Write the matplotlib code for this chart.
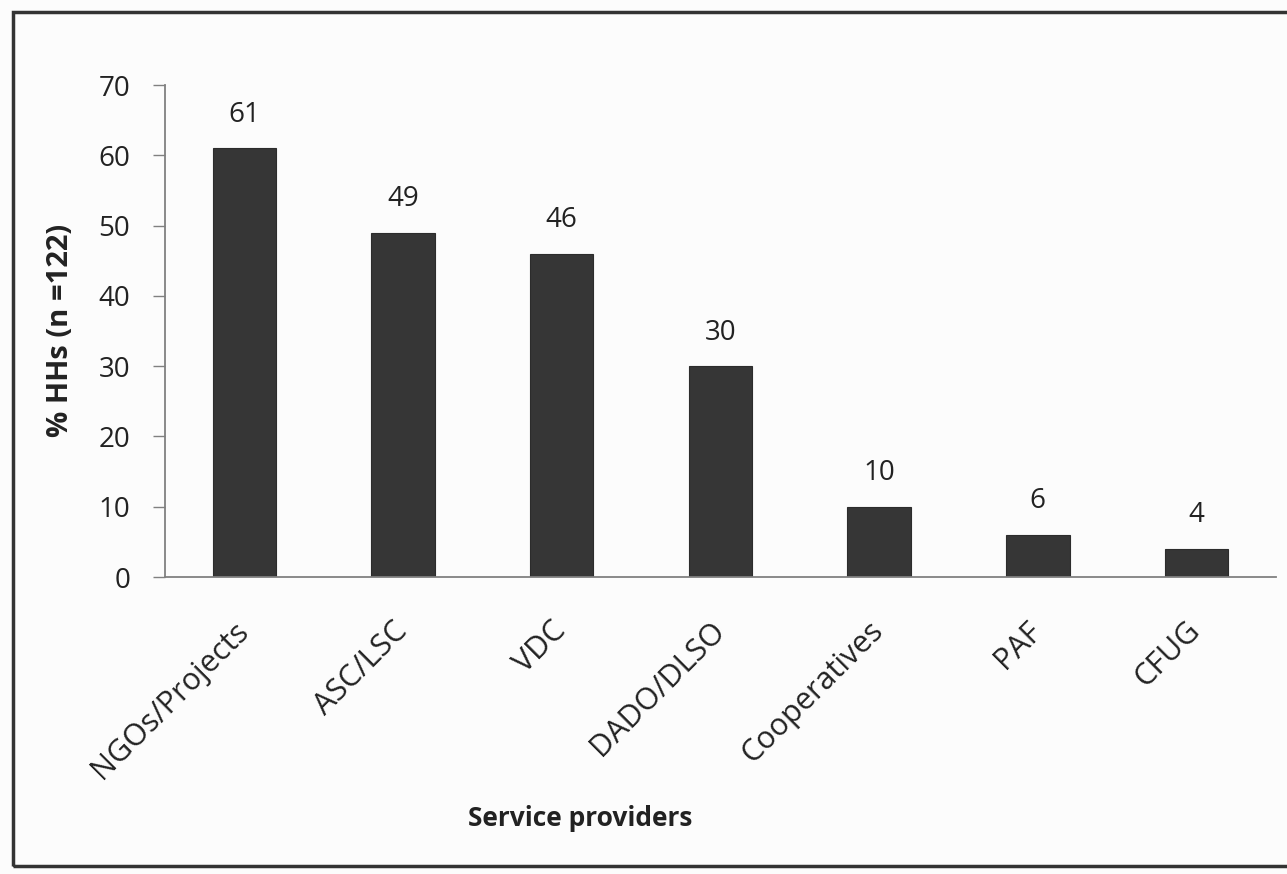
import matplotlib.pyplot as plt
from matplotlib.patches import Rectangle
from matplotlib.transforms import ScaledTranslation

# survey shares of households by service provider
providers = ['NGOs/Projects', 'ASC/LSC', 'VDC', 'DADO/DLSO',
             'Cooperatives', 'PAF', 'CFUG']
share = [61, 49, 46, 30, 10, 6, 4]
yticks = [0, 10, 20, 30, 40, 50, 60, 70]

plt.rcParams['font.family'] = ['Open Sans', 'DejaVu Sans']
text_col = '#222222'
axis_col = '#808080'

fig = plt.figure(figsize=(12.87, 8.74), dpi=100)
fig.patch.set_facecolor('#fcfcfc')
ax = fig.add_axes([0.1282, 0.3398, 0.8632, 0.5629])
ax.set_facecolor('none')

x = range(len(providers))
ax.bar(x, share, width=0.4, color='#363636', edgecolor='#2c2c2c', linewidth=0.8)

for xi, v in zip(x, share):
    ax.annotate(str(v), (xi, v), xytext=(0, 14), textcoords='offset points',
                ha='center', va='bottom', fontsize=20, color=text_col)

ax.set_xlim(-0.5, len(providers) - 0.5)
ax.set_ylim(0, 70)
ax.set_yticks(yticks)
ax.set_xticks(list(x))
ax.set_xticklabels(providers, rotation=45, ha='right', rotation_mode='anchor',
                   fontsize=22, color=text_col)
ax.tick_params(axis='x', length=0, pad=28)
ax.tick_params(axis='y', length=9, width=1, color=axis_col, pad=16,
               labelsize=20, labelcolor=text_col)

# nudge the slanted category labels so their ends sit under the bar centres
shift = ScaledTranslation(-8 / 72, 0, fig.dpi_scale_trans)
for lab in ax.get_xticklabels():
    lab.set_transform(lab.get_transform() + shift)

for side in ['top', 'right']:
    ax.spines[side].set_visible(False)
for side in ['left', 'bottom']:
    ax.spines[side].set_color(axis_col)
    ax.spines[side].set_linewidth(1.3)

fig.text(60 / 1287, 1 - 330 / 874, '% HHs (n =122)', rotation=90,
         ha='center', va='center', fontsize=21, fontweight='bold', color=text_col)
fig.text(580 / 1287, 1 - 818 / 874, 'Service providers',
         ha='center', va='center', fontsize=19, fontweight='bold', color=text_col)

# outer frame around the chart
fig.patches.append(Rectangle((13 / 1287, 8 / 874), 1.0, (862 - 8) / 874,
                             transform=fig.transFigure, fill=False,
                             edgecolor='#333333', linewidth=2.5, clip_on=False))

fig.savefig('out.png', dpi=100, facecolor=fig.get_facecolor())
